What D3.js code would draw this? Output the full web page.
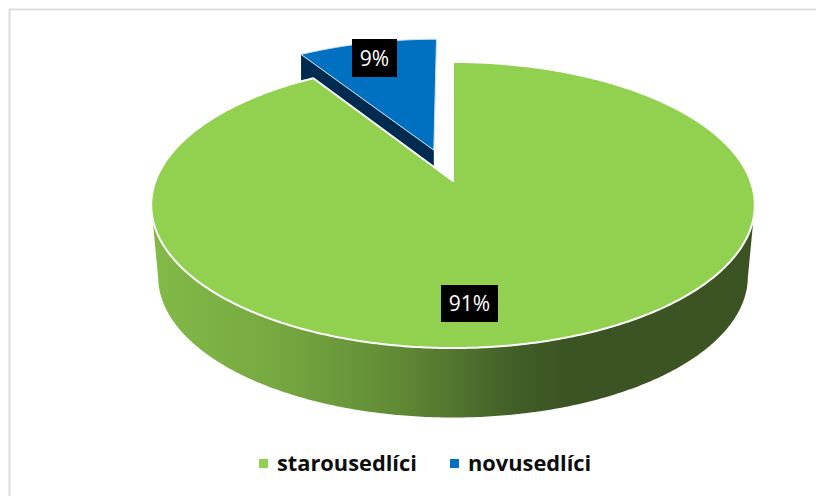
<!DOCTYPE html>
<html>
<head>
<meta charset="utf-8">
<script src="https://cdn.jsdelivr.net/npm/d3@7"></script>
<style>
	html,body{margin:0;padding:0;background:#fff;overflow:hidden;}
	svg{display:block;}
	text{font-family:"Open Sans",sans-serif;}
</style>
</head>
<body>
<div id="container"></div>
<script>
var categories = ['starousedlíci','novusedlíci'];
var values = [91,9];
var labels = ['91%','9%'];

var w = 816,
	h = 496;

var colors = {
	top:['#92d050','#0070c0'],
	wall:['#92d050','#002b50']
};

//pie is a flat disc seen in perspective: k sets how much the front grows
var cx = 453,
	cy = 181,
	persp_k = 0.1678,
	persp_a = 139,
	persp_c = 297.5,
	explode = 0.24;

//lower rim of the disc
var depth = 72,
	bottom_sx = 0.977,
	bottom_sy = 0.985;

var svg = d3.select('#container').append('svg')
	.attr('width',w)
	.attr('height',h);

var pie = d3.pie().sort(null).value(function(d){ return d; });
var arcs = pie(values);

function project(u,v){
	var s = 1/(1 -persp_k*v);
	return [persp_c*u*s, persp_a*v*s];
}
//angle 0 = back of the pie, going clockwise
function rim(a,ou,ov){
	return project(ou +Math.sin(a), ov -Math.cos(a));
}
function toTop(p){
	return [cx +p[0], cy +p[1]];
}
function toBottom(p){
	return [cx +p[0]*bottom_sx, cy +p[1]*bottom_sy +depth];
}
function samples(a0,a1){
	var n = Math.ceil(Math.abs(a1 -a0)/0.01);
	return d3.range(n +1).map(function(i){ return a0 +(a1 -a0)*i/n; });
}

var line = d3.line();

var defs = svg.append('defs');
var grad = defs.append('linearGradient')
	.attr('id','wallGrad')
	.attr('gradientUnits','userSpaceOnUse')
	.attr('x1',155).attr('y1',0)
	.attr('x2',755).attr('y2',0);
[[0,'#82b947'],[0.2,'#76a941'],[0.4,'#618b36'],[0.6,'#425e27'],[0.68,'#3c5423'],[1,'#3c5423']].forEach(function(d){
	grad.append('stop').attr('offset',d[0]).attr('stop-color',d[1]);
});

//frame, only top and left fall inside the picture
svg.append('rect')
	.attr('x',9.5).attr('y',9.5)
	.attr('width',w +40).attr('height',h +40)
	.style('fill','none')
	.style('stroke','#dcdcdc')
	.style('stroke-width',2);

//blue slice first, green sits in front of it
var blue = arcs[1],
	blue_mid = (blue.startAngle +blue.endAngle)/2,
	ou = Math.sin(blue_mid)*explode,
	ov = -Math.cos(blue_mid)*explode;

var blue_apex = project(ou,ov),
	blue_left = rim(blue.startAngle,ou,ov);

svg.append('path')
	.attr('d',line([blue_left,blue_apex,[blue_apex[0],blue_apex[1]+60],[blue_left[0],blue_left[1]+60]].map(toTop)) +'Z')
	.style('fill',colors.wall[1]);

svg.append('path')
	.attr('d',line([blue_apex].concat(samples(blue.startAngle,blue.endAngle).map(function(a){
		return rim(a,ou,ov);
	})).map(toTop)) +'Z')
	.style('fill',colors.top[1])
	.style('stroke','#cfe3f3')
	.style('stroke-width',1);

//green wall along the front of the rim
var front = samples(Math.PI*100/180,Math.PI*260/180).map(function(a){ return rim(a,0,0); });
svg.append('path')
	.attr('d',line(front.map(toTop).concat(front.slice().reverse().map(toBottom))) +'Z')
	.style('fill','url(#wallGrad)');

var green = arcs[0];
svg.append('path')
	.attr('d',line([[0,0]].concat(samples(green.startAngle,green.endAngle).map(function(a){
		return rim(a,0,0);
	})).map(toTop)) +'Z')
	.style('fill',colors.top[0])
	.style('stroke','#fff')
	.style('stroke-width',2)
	.style('stroke-linejoin','round');

//data labels
var label_boxes = [
	{x:441,y:285,w:57,h:37},
	{x:352,y:39,w:45,h:38}
];
var labelG = svg.selectAll('g.label')
	.data(labels)
	.enter().append('g')
	.classed('label',true)
	.attr('transform',function(d,i){
		return 'translate(' +label_boxes[i].x +',' +label_boxes[i].y +')';
	});
labelG.append('rect')
	.attr('width',function(d,i){ return label_boxes[i].w; })
	.attr('height',function(d,i){ return label_boxes[i].h; })
	.style('fill','#000');
labelG.append('text')
	.attr('x',function(d,i){ return label_boxes[i].w/2; })
	.attr('y',function(d,i){ return label_boxes[i].h/2 +7.5; })
	.attr('text-anchor','middle')
	.style('font-size','21px')
	.style('fill','#fff')
	.text(function(d){ return d; });

//legend
var legend_x = [259,450],
	legend_text_x = [277,468];
var legend = svg.selectAll('g.legend')
	.data(categories)
	.enter().append('g')
	.classed('legend',true);
legend.append('rect')
	.attr('x',function(d,i){ return legend_x[i]; })
	.attr('y',459)
	.attr('width',9)
	.attr('height',9)
	.style('fill',function(d,i){ return colors.top[i]; });
legend.append('text')
	.attr('x',function(d,i){ return legend_text_x[i]; })
	.attr('y',471)
	.style('font-size','21.8px')
	.style('font-weight',700)
	.style('fill','#0d0d0d')
	.text(function(d){ return d; });
</script>
</body>
</html>
